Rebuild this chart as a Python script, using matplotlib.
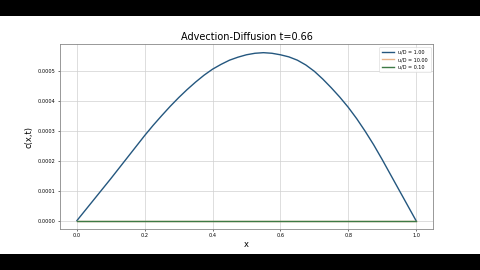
import numpy as np
import matplotlib
matplotlib.use("Agg")
import matplotlib.pyplot as plt
from matplotlib.patches import Rectangle

# concentration profile
x_vals = [0.000, 0.025, 0.050, 0.075, 0.100, 0.125, 0.150, 0.175, 0.200,
          0.225, 0.250, 0.275, 0.300, 0.325, 0.350, 0.375, 0.400, 0.425,
          0.450, 0.475, 0.500, 0.525, 0.550, 0.575, 0.600, 0.625, 0.650,
          0.675, 0.700, 0.725, 0.750, 0.775, 0.800, 0.825, 0.850, 0.875,
          0.900, 0.925, 0.950, 0.975, 1.000]
c_ud1 = [0.0, 0.000035, 0.000070, 0.000105, 0.000140, 0.000176, 0.000212,
         0.000248, 0.000284, 0.000318, 0.000350, 0.000381, 0.000410,
         0.000437, 0.000462, 0.000485, 0.000505, 0.000521, 0.000535,
         0.000545, 0.000553, 0.000558, 0.000560, 0.000558, 0.000553,
         0.000546, 0.000535, 0.000519, 0.000498, 0.000472, 0.000443,
         0.000412, 0.000378, 0.000340, 0.000298, 0.000253, 0.000204,
         0.000153, 0.000102, 0.000051, 0.0]
c_ud10 = [0.0] * len(x_vals)
c_ud01 = [0.0] * len(x_vals)
labels = ["u/D = 1.00", "u/D = 10.00", "u/D = 0.10"]
t_now = 0.66

fig = plt.figure(figsize=(4.8, 2.7), dpi=100)
fig.patch.set_facecolor("white")

# black letterbox bars
fig.patches.append(Rectangle((0, 0.9407), 1, 0.06, transform=fig.transFigure,
                             facecolor="black", zorder=0))
fig.patches.append(Rectangle((0, 0), 1, 0.059, transform=fig.transFigure,
                             facecolor="black", zorder=0))

ax = fig.add_axes([0.125, 0.152, 0.777, 0.684])
ax.plot(x_vals, c_ud1, color="#24577f", lw=1.0, label=labels[0])
ax.plot(x_vals, c_ud10, color="#e8b48a", lw=1.0, label=labels[1])
ax.plot(x_vals, c_ud01, color="#3d7a45", lw=1.0, label=labels[2])

ax.set_title(f"Advection-Diffusion t={t_now:.2f}", fontsize=7, pad=3)
ax.set_xlabel("x", fontsize=6, labelpad=1.5)
ax.set_ylabel("c(x,t)", fontsize=6, labelpad=3)
ax.tick_params(labelsize=3.6, length=1.5, width=0.4, pad=1.5)
ax.grid(True, color="#d0d0d0", lw=0.5)
for s in ax.spines.values():
    s.set_color("#888888")
    s.set_linewidth(0.6)

leg = ax.legend(loc="upper right", fontsize=3.5, handlelength=2.5,
                borderpad=0.6, labelspacing=0.5, frameon=True)
leg.get_frame().set_linewidth(0.4)

fig.savefig("out.png", dpi=100)
